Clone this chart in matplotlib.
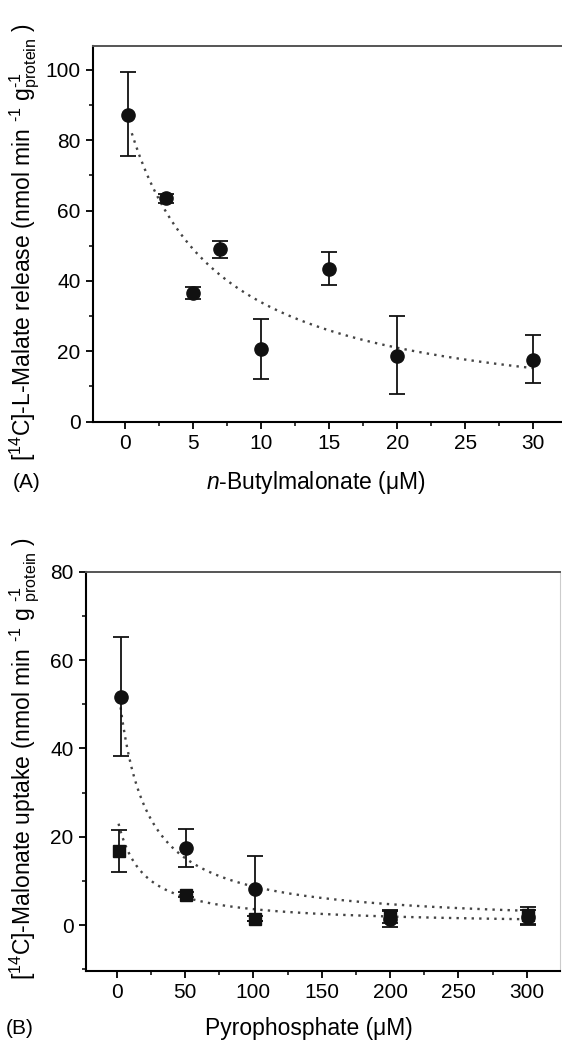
import numpy as np
import matplotlib.pyplot as plt

plt.rcParams['font.family'] = ['Liberation Sans', 'DejaVu Sans']
plt.rcParams['mathtext.fontset'] = 'custom'
plt.rcParams['mathtext.rm'] = 'Liberation Sans'
plt.rcParams['mathtext.it'] = 'Liberation Sans:italic'
plt.rcParams['mathtext.bf'] = 'Liberation Sans:bold'

# --- Panel A: n-Butylmalonate ---
butyl_conc = [0.25, 3, 5, 7, 10, 15, 20, 30]
malate_release = [87.2, 63.5, 36.5, 49.0, 20.6, 43.4, 18.7, 17.5]
malate_err_low = [11.7, 1.3, 1.7, 2.5, 8.6, 4.6, 11.0, 6.6]
malate_err_high = [12.1, 1.1, 1.8, 2.2, 8.6, 4.9, 11.3, 7.1]
# hyperbolic fit y = A*K/(K+x)
fit_a = (88.6, 6.2)

# --- Panel B: Pyrophosphate ---
pyro_conc_circ = [3, 51, 101, 200, 301]
uptake_circ = [51.6, 17.4, 8.3, 1.3, 1.9]
circ_err_low = [13.3, 4.2, 7.4, 1.8, 1.6]
circ_err_high = [13.6, 4.3, 7.4, 1.8, 1.6]

pyro_conc_sq = [1.5, 51, 101, 200, 301]
uptake_sq = [16.8, 6.9, 1.5, 2.0, 2.3]
sq_err_low = [4.8, 0.5, 0.5, 1.5, 2.3]
sq_err_high = [4.7, 0.5, 0.5, 1.5, 1.8]

fit_circ = (57.5, 18.0)
fit_sq = (25.0, 17.0)

W, H = 562, 1042
fig = plt.figure(figsize=(W / 100, H / 100), dpi=100)


def box(left, top, right, bottom):
    return [left / W, 1 - bottom / H, (right - left) / W, (bottom - top) / H]


def hyper(x, p):
    return p[0] * p[1] / (p[1] + x)


def style_axes(ax, right_color=None):
    ax.spines['left'].set_linewidth(1.5)
    ax.spines['bottom'].set_linewidth(1.5)
    ax.spines['top'].set_linewidth(1.4)
    ax.spines['top'].set_color('#555555')
    if right_color is None:
        ax.spines['right'].set_visible(False)
    else:
        ax.spines['right'].set_color(right_color)
        ax.spines['right'].set_linewidth(0.8)
    ax.tick_params(which='major', direction='out', length=5, width=1.3,
                   labelsize=15, pad=4, top=False, right=False)
    ax.tick_params(which='minor', direction='out', length=3, width=1.1,
                   top=False, right=False)


fit_style = dict(color='#444444', linestyle=(0, (1, 2.2)), linewidth=1.7)
err_style = dict(ecolor='#111111', elinewidth=1.3, capsize=6, capthick=1.3,
                 linestyle='none', color='#111111')

# ---------- Panel A ----------
ax1 = fig.add_axes(box(93, 46, 562, 421.5))
xa = np.linspace(0.5, 30, 200)
ax1.plot(xa, hyper(xa, fit_a), **fit_style)
ax1.errorbar(butyl_conc, malate_release, yerr=[malate_err_low, malate_err_high],
             marker='o', markersize=9.5, **err_style)
ax1.set_xlim(-2.35, 32.1)
ax1.set_ylim(0, 106.8)
ax1.set_xticks(range(0, 31, 5))
ax1.set_xticks(np.arange(2.5, 32, 5), minor=True)
ax1.set_yticks(range(0, 101, 20))
ax1.set_yticks(range(10, 106, 20), minor=True)
style_axes(ax1)

fig.text(13 / W, 1 - 482 / H, '(A)', fontsize=15, va='center', ha='left')
fig.text(316 / W, 1 - 482 / H, r'$\it{n}$-Butylmalonate (μM)', fontsize=16.5,
         va='center', ha='center')
fig.text(25 / W, 1 - 242 / H,
         r'[$^{14}$C]-L-Malate release (nmol min $^{\text{-}1}$ g$^{\text{-}1}_{\rm protein}$ )',
         fontsize=16.5, rotation=90, va='center', ha='center')

# ---------- Panel B ----------
ax2 = fig.add_axes(box(86, 571.7, 560, 970.7))
xb = np.linspace(3, 300, 300)
ax2.plot(xb, hyper(xb, fit_circ), **fit_style)
xs = np.linspace(1.5, 300, 300)
ax2.plot(xs, hyper(xs, fit_sq), **fit_style)
ax2.errorbar(pyro_conc_circ, uptake_circ, yerr=[circ_err_low, circ_err_high],
             marker='o', markersize=9.5, **err_style)
ax2.errorbar(pyro_conc_sq, uptake_sq, yerr=[sq_err_low, sq_err_high],
             marker='s', markersize=9, **err_style)
ax2.set_xlim(-22.3, 324.2)
ax2.set_ylim(-10.3, 80)
ax2.set_xticks(range(0, 301, 50))
ax2.set_xticks(range(25, 325, 50), minor=True)
ax2.set_yticks(range(0, 81, 20))
ax2.set_yticks(range(-10, 80, 20), minor=True)
style_axes(ax2, right_color='#cccccc')

fig.text(6 / W, 1 - 1028 / H, '(B)', fontsize=15, va='center', ha='left')
fig.text(309 / W, 1 - 1028 / H, 'Pyrophosphate (μM)', fontsize=16.5,
         va='center', ha='center')
fig.text(25 / W, 1 - 759 / H,
         r'[$^{14}$C]-Malonate uptake (nmol min $^{\text{-}1}$ g $^{\text{-}1}_{\rm protein}$ )',
         fontsize=16.5, rotation=90, va='center', ha='center')

fig.savefig('out.png', dpi=100)
